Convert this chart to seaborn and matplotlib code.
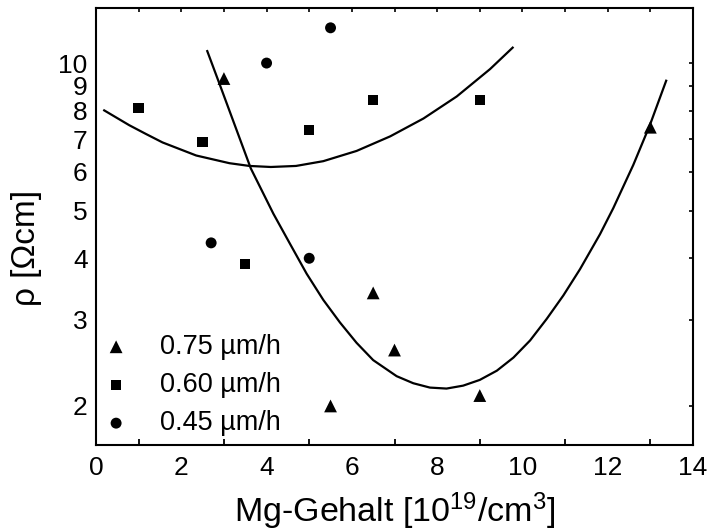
import matplotlib
matplotlib.use("Agg")
import matplotlib.pyplot as plt
import matplotlib.ticker as mticker
import seaborn as sns
import pandas as pd

# ---- data ----
x_075 = [3.0, 5.5, 6.5, 7.0, 9.0, 13.0]
y_075 = [9.3, 2.0, 3.4, 2.6, 2.1, 7.4]

x_060 = [1.0, 2.5, 3.5, 5.0, 6.5, 9.0]
y_060 = [8.1, 6.9, 3.9, 7.3, 8.4, 8.4]

x_045 = [2.7, 4.0, 5.0, 5.5]
y_045 = [4.3, 10.0, 4.0, 11.8]

# fitted curves
fit_a_x = [0.17, 0.78, 1.17, 1.56, 2.35, 3.13, 3.60, 4.10, 4.69, 5.33, 6.11, 6.90, 7.68, 8.46, 9.24, 9.79]
fit_a_y = [8.03, 7.47, 7.17, 6.89, 6.48, 6.25, 6.17, 6.14, 6.17, 6.31, 6.62, 7.09, 7.71, 8.55, 9.72, 10.79]

fit_b_x = [2.60, 2.89, 3.63, 4.16, 4.55, 4.94, 5.33, 5.72, 6.11, 6.50, 7.05, 7.44, 7.83, 8.22,
           8.61, 9.00, 9.40, 9.79, 10.18, 10.57, 10.96, 11.35, 11.82, 12.13, 12.60, 12.99, 13.38]
fit_b_y = [10.63, 9.10, 6.10, 4.93, 4.28, 3.72, 3.29, 2.96, 2.69, 2.48, 2.30, 2.225, 2.18, 2.17,
           2.20, 2.26, 2.36, 2.51, 2.72, 3.01, 3.36, 3.80, 4.48, 5.06, 6.20, 7.48, 9.25]

labels = ["0.75 µm/h", "0.60 µm/h", "0.45 µm/h"]
y_ticks = [2, 3, 4, 5, 6, 7, 8, 9, 10]
x_ticks = [0, 2, 4, 6, 8, 10, 12, 14]

sns.set_theme(style="white")
plt.rcParams["font.family"] = ["Liberation Sans", "DejaVu Sans"]
plt.rcParams["mathtext.fontset"] = "custom"
plt.rcParams["mathtext.rm"] = "Liberation Sans"
plt.rcParams["mathtext.default"] = "regular"
plt.rcParams["text.color"] = "black"
plt.rcParams["axes.labelcolor"] = "black"
plt.rcParams["xtick.color"] = "black"
plt.rcParams["ytick.color"] = "black"

fig = plt.figure(figsize=(7.08, 5.31), dpi=100)
ax = fig.add_axes([96 / 708, 1 - 445 / 531, 597 / 708, 437 / 531])

df_a = pd.DataFrame({"x": fit_a_x, "y": fit_a_y})
df_b = pd.DataFrame({"x": fit_b_x, "y": fit_b_y})
for d in (df_a, df_b):
    sns.lineplot(data=d, x="x", y="y", sort=False, estimator=None, color="black", lw=1.6,
                 solid_joinstyle="round", solid_capstyle="butt", ax=ax)

sns.scatterplot(x=x_075, y=y_075, marker="^", s=85, color="black", edgecolor="none", label=labels[0], ax=ax)
sns.scatterplot(x=x_060, y=y_060, marker="s", s=55, color="black", edgecolor="none", label=labels[1], ax=ax)
sns.scatterplot(x=x_045, y=y_045, marker="o", s=62, color="black", edgecolor="none", label=labels[2], ax=ax)

ax.set_yscale("log")
ax.set_xlim(0, 14)
ax.set_ylim(1.665, 12.95)
ax.set_yticks(y_ticks)
ax.yaxis.set_major_formatter(mticker.FormatStrFormatter("%d"))
ax.yaxis.set_minor_locator(mticker.NullLocator())
ax.set_xticks(x_ticks)
ax.xaxis.set_minor_locator(mticker.MultipleLocator(1))

for s in ax.spines.values():
    s.set_linewidth(1.5)
    s.set_color("black")

ax.tick_params(axis="both", which="major", direction="in", length=7, width=1.3,
               labelsize=19, colors="black")
ax.tick_params(axis="x", which="major", pad=8)
ax.tick_params(axis="y", which="major", pad=6)
ax.tick_params(axis="x", which="minor", direction="in", length=4.5, width=1.3, bottom=True)

# top and right short ticks
top = ax.secondary_xaxis("top")
top.set_xticks(list(range(0, 15)))
top.tick_params(direction="in", length=3, width=1.2, labeltop=False)
top.xaxis.set_minor_locator(mticker.NullLocator())
right = ax.secondary_yaxis("right")
right.set_yticks(y_ticks)
right.yaxis.set_minor_locator(mticker.NullLocator())
right.tick_params(direction="in", length=3, width=1.2, labelright=False)

ax.set_xlabel("Mg-Gehalt [10$^{19}$/cm$^{3}$]", fontsize=24.5, color="black")
ax.set_ylabel("ρ [Ωcm]", fontsize=24, color="black")
ax.xaxis.set_label_coords(0.5, -0.105)
ax.yaxis.set_label_coords(-0.09, 0.45)

leg = ax.legend(loc="lower left", bbox_to_anchor=(0.011, 0.02), frameon=False, fontsize=19.5,
                handlelength=1.0, handletextpad=1.12, labelspacing=0.45, borderpad=0, borderaxespad=0)
for t in leg.get_texts():
    t.set_color("black")

fig.savefig("out.png", dpi=100)
